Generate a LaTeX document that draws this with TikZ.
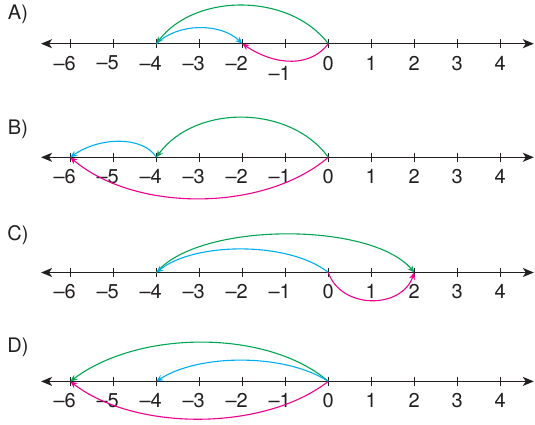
\documentclass[tikz,border=0pt]{standalone}
\usepackage{fontspec}
\setmainfont{TeX Gyre Heros}
\usetikzlibrary{arrows.meta}
\definecolor{axisgray}{HTML}{231F20}
\definecolor{jumpgreen}{HTML}{00A651}
\definecolor{jumpblue}{HTML}{00AEEF}
\definecolor{jumppink}{HTML}{EC008C}
\newcommand\numlbl[1]{\ifnum#1<0 \llap{\textendash}\number-#1\else#1\fi}

\begin{document}
\begin{tikzpicture}[
  x=1pt, y=1pt,
  axisline/.style={draw=axisgray, line width=1.5pt, {Stealth[length=11pt,width=9pt,inset=3pt]}-{Stealth[length=11pt,width=9pt,inset=3pt]}},
  tickmark/.style={draw=axisgray, line width=1.3pt},
  lbl/.style={font=\fontsize{20}{23}\selectfont, text=axisgray, inner sep=0pt},
  jump/.style={line width=1.1pt, -{Stealth[length=7pt,width=6pt]}}
]
\useasboundingbox (0,0) rectangle (535,424);

% A)
\node[lbl] (labA) at (18,410) {A)};
\begin{scope}[shift={(328.3,380.3)}, x=43pt]
  \coordinate (Aleft) at (-6.68,0);
  \coordinate (Aright) at (4.78,0);
  \draw[axisline] (Aleft) -- (Aright);
  \foreach \n in {-6,...,4} {
    \coordinate (A\n) at (\n,0);
    \draw[tickmark] (\n,-4.2) -- (\n,4.2);
  }
  \foreach \n in {-6,-5,-4,-3,-2,0,1,2,3,4}
    \node[lbl] (lA\n) at (\n,-19.4) {\numlbl{\n}};
  \node[lbl] (lA-1) at (-1,-29.7) {\numlbl{-1}};
  \draw[jump, jumpgreen] (A0) .. controls +(-0.9,51) and +(0.9,51) .. (A-4);
  \draw[jump, jumpblue] (A-4) .. controls +(0.5,21) and +(-0.5,21) .. (A-2);
  \draw[jump, jumppink] (A0) .. controls +(-0.4,-23) and +(0.8,-23) .. (A-2);
\end{scope}

% B)
\node[lbl] (labB) at (18,295) {B)};
\begin{scope}[shift={(328.3,266.7)}, x=43pt]
  \coordinate (Bleft) at (-6.68,0);
  \coordinate (Bright) at (4.78,0);
  \draw[axisline] (Bleft) -- (Bright);
  \foreach \n in {-6,...,4} {
    \coordinate (B\n) at (\n,0);
    \draw[tickmark] (\n,-4.2) -- (\n,4.2);
  }
  \foreach \n in {-6,...,4}
    \node[lbl] (lB\n) at (\n,-19.4) {\numlbl{\n}};
  \draw[jump, jumpgreen] (B0) .. controls +(-0.9,53) and +(0.9,53) .. (B-4);
  \draw[jump, jumpblue] (B-4) .. controls +(-0.3,21) and +(0.7,21) .. (B-6);
  \draw[jump, jumppink] (B0) .. controls +(-1.5,-55) and +(1.5,-55) .. (B-6);
\end{scope}

% C)
\node[lbl] (labC) at (18,188.5) {C)};
\begin{scope}[shift={(328.3,151.5)}, x=43pt]
  \coordinate (Cleft) at (-6.68,0);
  \coordinate (Cright) at (4.78,0);
  \draw[axisline] (Cleft) -- (Cright);
  \foreach \n in {-6,...,4} {
    \coordinate (C\n) at (\n,0);
    \draw[tickmark] (\n,-4.2) -- (\n,4.2);
  }
  \foreach \n in {-6,...,4}
    \node[lbl] (lC\n) at (\n,-19.4) {\numlbl{\n}};
  \draw[jump, jumpgreen] (C-4) .. controls +(1,51) and +(-1,51) .. (C2);
  \draw[jump, jumpblue] (C0) .. controls +(-0.9,31) and +(0.9,31) .. (C-4);
  \draw[jump, jumppink] (C0) .. controls +(0.3,-37) and +(-0.3,-37) .. (C2);
\end{scope}

% D)
\node[lbl] (labD) at (18,76.7) {D)};
\begin{scope}[shift={(328.3,42.6)}, x=43pt]
  \coordinate (Dleft) at (-6.68,0);
  \coordinate (Dright) at (4.78,0);
  \draw[axisline] (Dleft) -- (Dright);
  \foreach \n in {-6,...,4} {
    \coordinate (D\n) at (\n,0);
    \draw[tickmark] (\n,-4.2) -- (\n,4.2);
  }
  \foreach \n in {-6,...,4}
    \node[lbl] (lD\n) at (\n,-19.4) {\numlbl{\n}};
  \draw[jump, jumpgreen] (D0) .. controls +(-1.4,52) and +(1.6,52) .. (D-6);
  \draw[jump, jumpblue] (D0) .. controls +(-1,28) and +(1,28) .. (D-4);
  \draw[jump, jumppink] (D0) .. controls +(-1.5,-50) and +(1.5,-50) .. (D-6);
\end{scope}
\end{tikzpicture}
\end{document}
